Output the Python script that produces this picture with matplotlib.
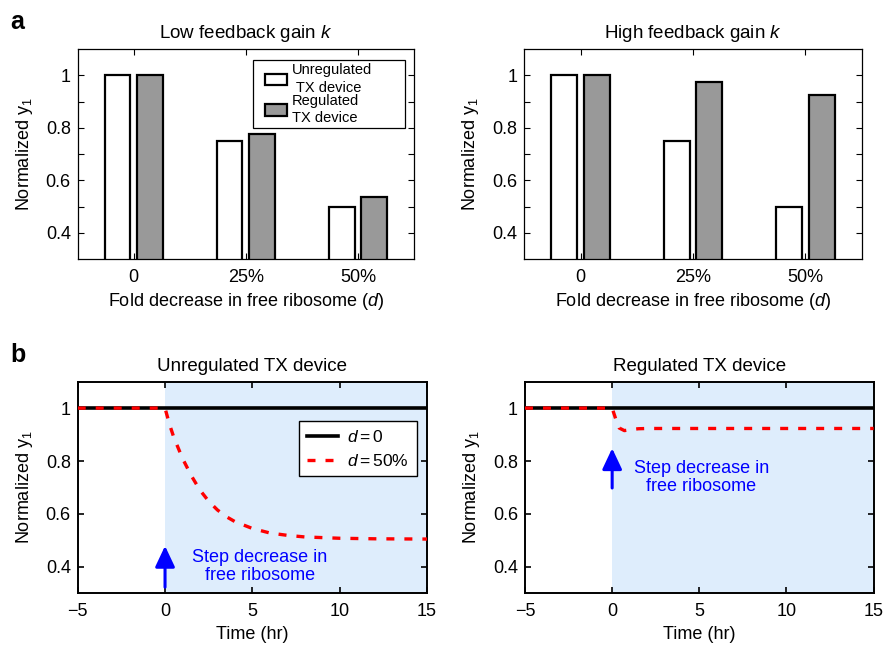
import matplotlib
matplotlib.use('Agg')
import matplotlib.pyplot as plt
from matplotlib.patches import Rectangle

plt.rcParams['font.family'] = ['Liberation Sans', 'DejaVu Sans']
plt.rcParams['mathtext.fontset'] = 'custom'
plt.rcParams['mathtext.rm'] = 'Liberation Sans'
plt.rcParams['mathtext.it'] = 'Liberation Sans:italic'
plt.rcParams['mathtext.bf'] = 'Liberation Sans:bold'
plt.rcParams['font.size'] = 13

# datos de las barras (panel a)
categorias = ['0', '25%', '50%']
no_regulado_bajo = [1.0, 0.75, 0.5]
regulado_bajo = [1.0, 0.778, 0.537]
no_regulado_alto = [1.0, 0.75, 0.5]
regulado_alto = [1.0, 0.973, 0.925]

# respuestas temporales (panel b)
t_cero = [-5, 15]
y_cero = [1.0, 1.0]
t_no_reg = [-5, 0, 0.25, 0.5, 1, 1.5, 2, 2.5, 3, 3.5, 4, 5, 6, 7, 8, 10, 12, 15]
y_no_reg = [1.0, 1.0, 0.94, 0.89, 0.81, 0.745, 0.69, 0.648, 0.615, 0.59,
            0.571, 0.545, 0.528, 0.519, 0.513, 0.508, 0.506, 0.505]
t_reg = [-5, 0, 0.2, 0.4, 0.7, 1.0, 1.5, 2, 3, 5, 15]
y_reg = [1.0, 1.0, 0.96, 0.925, 0.915, 0.918, 0.922, 0.923, 0.923, 0.923, 0.923]

gris = '#999999'
azul_claro = '#deedfc'

fig = plt.figure(figsize=(8.85, 6.46), dpi=100)
ax1 = fig.add_axes([0.0878, 0.599, 0.380, 0.325])
ax2 = fig.add_axes([0.5925, 0.599, 0.381, 0.325])
ax3 = fig.add_axes([0.0878, 0.0816, 0.3947, 0.3276])
ax4 = fig.add_axes([0.5932, 0.0816, 0.394, 0.3276])


def barras(ax, no_reg, reg, titulo):
    x = list(range(len(categorias)))
    ax.bar([i - 0.145 for i in x], no_reg, 0.23, bottom=0, color='white',
           edgecolor='black', linewidth=1.6, label='Unregulated\n TX device')
    ax.bar([i + 0.145 for i in x], reg, 0.23, bottom=0, color=gris,
           edgecolor='black', linewidth=1.6, label='Regulated\nTX device')
    ax.set_xlim(-0.5, 2.5)
    ax.set_ylim(0.3, 1.1)
    ax.set_xticks(x)
    ax.set_xticklabels(categorias)
    ax.set_yticks([0.4, 0.6, 0.8, 1.0])
    ax.set_yticklabels(['0.4', '0.6', '0.8', '1'])
    ax.set_yticks([0.5, 0.7, 0.9], minor=True)
    ax.tick_params(which='both', direction='in', top=True, right=True,
                   length=4, width=0.8)
    ax.tick_params(axis='x', pad=7)
    ax.tick_params(axis='y', pad=5)
    for s in ax.spines.values():
        s.set_linewidth(0.9)
    ax.set_title(titulo, pad=8, fontsize=13.5)
    ax.set_xlabel('Fold decrease in free ribosome ($d$)', labelpad=4)
    ax.set_ylabel('Normalized y$_1$', labelpad=8)


def tiempos(ax, t, y, titulo):
    ax.axvspan(0, 15, color=azul_claro, lw=0, zorder=0)
    ax.plot(t_cero, y_cero, color='black', lw=2.6, label='$d=0$', zorder=2)
    ax.plot(t, y, color='red', lw=2.4, dashes=(2.4, 3.0),
            label='$d=50\\%$', zorder=3)
    ax.set_xlim(-5, 15)
    ax.set_ylim(0.3, 1.1)
    ax.set_xticks([-5, 0, 5, 10, 15])
    ax.set_yticks([0.4, 0.6, 0.8, 1.0])
    ax.set_yticklabels(['0.4', '0.6', '0.8', '1'])
    ax.tick_params(direction='in', top=True, right=True, length=4, width=1.2)
    ax.tick_params(axis='x', pad=7)
    ax.tick_params(axis='y', pad=5)
    for s in ax.spines.values():
        s.set_linewidth(1.4)
    ax.set_title(titulo, pad=8, fontsize=13.5)
    ax.set_xlabel('Time (hr)', labelpad=4)
    ax.set_ylabel('Normalized y$_1$', labelpad=8)


barras(ax1, no_regulado_bajo, regulado_bajo, 'Low feedback gain $k$')
barras(ax2, no_regulado_alto, regulado_alto, 'High feedback gain $k$')

# caja de la leyenda dibujada a mano (mas ancha que el texto, como en el original)
caja = Rectangle((0.52, 0.622), 0.453, 0.326, transform=ax1.transAxes,
                 facecolor='white', edgecolor='black', lw=0.9, zorder=4)
ax1.add_patch(caja)
leg = ax1.legend(loc='upper left', bbox_to_anchor=(0.554, 0.94),
                 borderaxespad=0, fontsize=10.5, frameon=False,
                 handlelength=1.45, handleheight=0.85, labelspacing=-0.1,
                 handletextpad=0.35, borderpad=0.1)
for txt in leg.get_texts():
    txt.set_linespacing(1.35)
leg.set_zorder(5)

tiempos(ax3, t_no_reg, y_no_reg, 'Unregulated TX device')
tiempos(ax4, t_reg, y_reg, 'Regulated TX device')

leg2 = ax3.legend(loc='upper right', bbox_to_anchor=(0.9705, 0.814),
                  borderaxespad=0, fontsize=12.5, frameon=True, fancybox=False,
                  edgecolor='black', handlelength=1.8, labelspacing=0.45,
                  handletextpad=0.5, borderpad=0.45, framealpha=1)
leg2.get_frame().set_linewidth(1.0)

# flechas y texto azul
flecha = dict(arrowstyle='-|>,head_length=0.85,head_width=0.4', color='blue',
              lw=2.2, mutation_scale=15, shrinkA=0, shrinkB=0)
ax3.annotate('', xy=(0, 0.479), xytext=(0, 0.323), arrowprops=flecha)
ax3.text(5.43, 0.40, 'Step decrease in\nfree ribosome', color='blue',
         ha='center', va='center', fontsize=13, linespacing=1.1)
ax4.annotate('', xy=(0, 0.848), xytext=(0, 0.698), arrowprops=flecha)
ax4.text(5.11, 0.738, 'Step decrease in\nfree ribosome', color='blue',
         ha='center', va='center', fontsize=13, linespacing=1.1)

fig.text(0.012, 1 - 21.7 / 646, 'a', fontsize=18, fontweight='bold', va='center')
fig.text(0.012, 1 - 355 / 646, 'b', fontsize=18, fontweight='bold', va='center')

fig.savefig('out.png', dpi=100)
